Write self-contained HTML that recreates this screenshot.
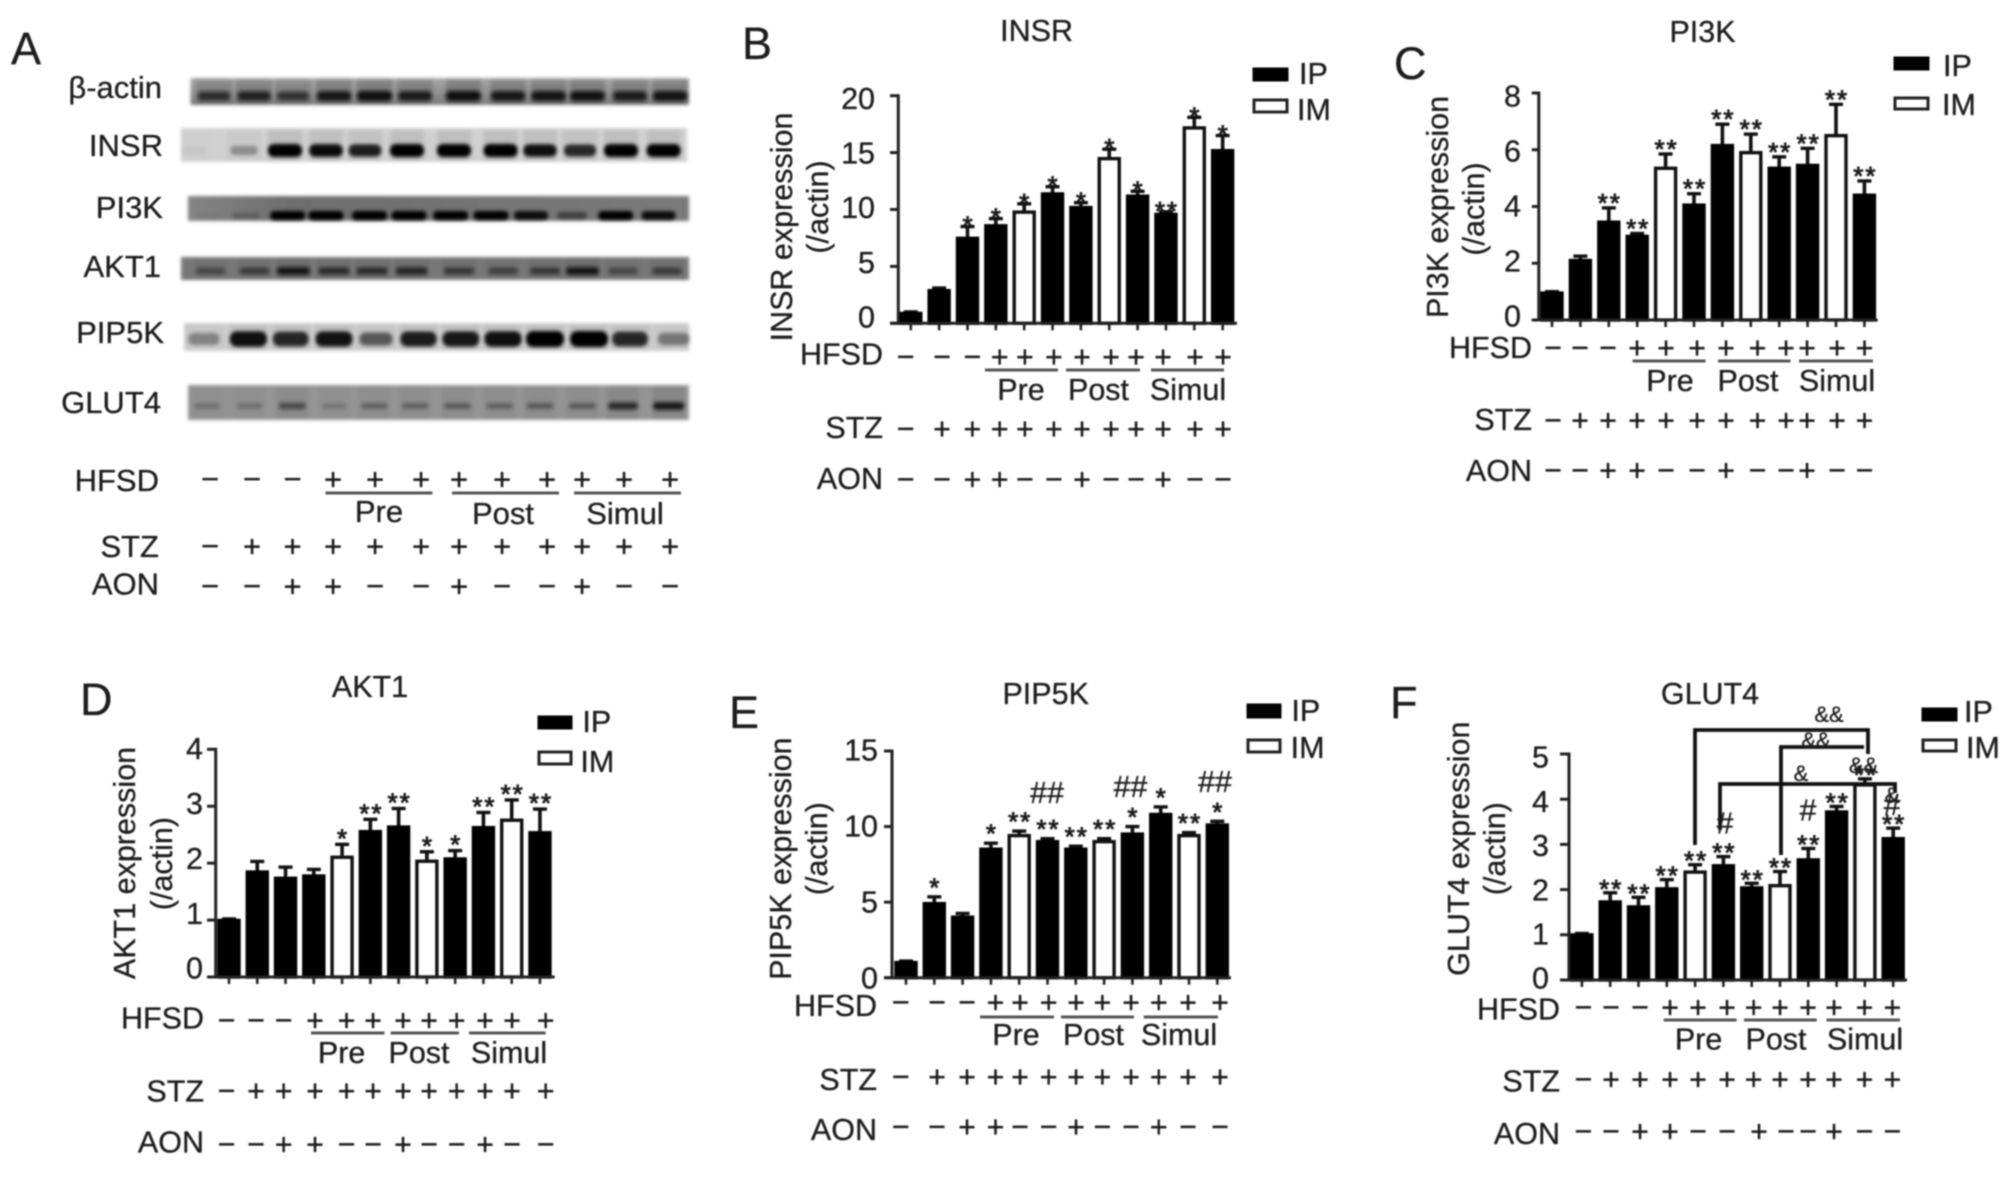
<!DOCTYPE html>
<html lang="en">
<head>
<meta charset="utf-8">
<title>Expression of INSR, PI3K, AKT1, PIP5K and GLUT4</title>
<style>
html,body{margin:0;padding:0;background:#fff;}
#figure{display:block;width:2008px;height:1179px;filter:blur(0.85px);}
text{font-family:"Liberation Sans",Arial,sans-serif;font-size:30.5px;fill:#1c1c1c;stroke:#1c1c1c;stroke-width:0.3;}
#panel-a text{font-size:31px;}
#panel-a text.letter,.letter{font-size:45px;}
.end{text-anchor:end;}
.mid{text-anchor:middle;}
.under{stroke:#555;stroke-width:3;}
.bracket{fill:none;stroke:#111;stroke-width:3.8;}
.solid{fill:#000;stroke:#000;stroke-width:3;}
.open{fill:#fff;stroke:#222;stroke-width:3;}
text.small{font-size:22px;}
text.stars{font-size:26px;stroke-width:0.9;letter-spacing:2px;}
</style>
</head>
<body>
<svg id="figure" xmlns="http://www.w3.org/2000/svg" width="2008" height="1179" viewBox="0 0 2008 1179">
<defs>
<filter id="gelBlur" x="-5%" y="-30%" width="110%" height="160%"><feGaussianBlur stdDeviation="1.6"/></filter>
<filter id="bandBlur" x="-30%" y="-100%" width="160%" height="300%"><feGaussianBlur stdDeviation="1.9"/></filter>
<linearGradient id="gelActin" x1="0" y1="0" x2="0" y2="1"><stop offset="0" stop-color="#a8a8a8"/><stop offset="1" stop-color="#7a7a7a"/></linearGradient>
<linearGradient id="gelPi3k" x1="0" y1="0" x2="1" y2="0"><stop offset="0" stop-color="#858585"/><stop offset="0.2" stop-color="#6e6e6e"/><stop offset="1" stop-color="#7a7a7a"/></linearGradient>
</defs>
<rect x="0" y="0" width="2008" height="1179" fill="#fff"/>

<g id="panel-a">
  <text class="letter" x="11" y="64">A</text>
  <g id="gel-strips"></g>
  <text class="end" x="162" y="98">β-actin</text>
  <text class="end" x="163" y="156">INSR</text>
  <text class="end" x="163" y="218">PI3K</text>
  <text class="end" x="161" y="277">AKT1</text>
  <text class="end" x="164" y="343">PIP5K</text>
  <text class="end" x="161" y="413">GLUT4</text>
  <text class="end" x="159" y="491">HFSD</text>
  <text class="end" x="159" y="557">STZ</text>
  <text class="end" x="159" y="594.5">AON</text>
  <line class="under" x1="325.5" y1="493" x2="432.5" y2="493"/>
  <line class="under" x1="452" y1="493" x2="559" y2="493"/>
  <line class="under" x1="574" y1="493" x2="681" y2="493"/>
  <text class="mid" x="379" y="522">Pre</text>
  <text class="mid" x="503" y="524">Post</text>
  <text class="mid" x="625" y="524">Simul</text>
  <g id="marks-a"></g>
</g>

<g id="panel-b">
  <text class="letter" x="742" y="59">B</text>
  <text class="mid" x="1036.6" y="41">INSR</text>
  <text class="mid" transform="translate(792,227) rotate(-90)">INSR expression</text>
  <text class="mid" transform="translate(828,207) rotate(-90)">(/actin)</text>
  <rect class="solid" x="1254" y="69" width="33" height="11"/>
  <text x="1299" y="84">IP</text>
  <rect class="open" x="1254" y="100" width="33" height="12"/>
  <text x="1297" y="120">IM</text>
  <text class="end" x="883" y="364.5">HFSD</text>
  <text class="end" x="883" y="438">STZ</text>
  <text class="end" x="883" y="489">AON</text>
  <line class="under" x1="985" y1="370" x2="1058" y2="370"/>
  <line class="under" x1="1066" y1="370" x2="1140" y2="370"/>
  <line class="under" x1="1151" y1="370" x2="1224" y2="370"/>
  <text class="mid" x="1021" y="400">Pre</text>
  <text class="mid" x="1098.5" y="400">Post</text>
  <text class="mid" x="1188" y="400">Simul</text>
</g>

<g id="panel-c">
  <text class="letter" x="1394" y="79">C</text>
  <text class="mid" x="1702.5" y="42">PI3K</text>
  <text class="mid" transform="translate(1448,207) rotate(-90)">PI3K expression</text>
  <text class="mid" transform="translate(1484,209) rotate(-90)">(/actin)</text>
  <rect class="solid" x="1895" y="58" width="33" height="11"/>
  <text x="1943" y="76">IP</text>
  <rect class="open" x="1895" y="98" width="33" height="11"/>
  <text x="1942" y="115">IM</text>
  <text class="end" x="1532" y="358">HFSD</text>
  <text class="end" x="1532" y="430">STZ</text>
  <text class="end" x="1532" y="481">AON</text>
  <line class="under" x1="1632.6" y1="361" x2="1705.5" y2="361"/>
  <line class="under" x1="1718" y1="361" x2="1790.5" y2="361"/>
  <line class="under" x1="1799" y1="361" x2="1873" y2="361"/>
  <text class="mid" x="1670" y="391">Pre</text>
  <text class="mid" x="1748" y="391">Post</text>
  <text class="mid" x="1837" y="391">Simul</text>
</g>

<g id="panel-d">
  <text class="letter" x="80" y="715">D</text>
  <text class="mid" x="370" y="697">AKT1</text>
  <text class="mid" transform="translate(135,863) rotate(-90)">AKT1 expression</text>
  <text class="mid" transform="translate(172,863.6) rotate(-90)">(/actin)</text>
  <rect class="solid" x="539" y="717" width="32" height="11"/>
  <text x="582.4" y="732">IP</text>
  <rect class="open" x="539" y="752" width="32" height="12"/>
  <text x="580.4" y="772">IM</text>
  <text class="end" x="204" y="1028.5">HFSD</text>
  <text class="end" x="204" y="1101.5">STZ</text>
  <text class="end" x="204" y="1152.5">AON</text>
  <line class="under" x1="311" y1="1033" x2="384.5" y2="1033"/>
  <line class="under" x1="390.6" y1="1033" x2="459" y2="1033"/>
  <line class="under" x1="469" y1="1033" x2="545.7" y2="1033"/>
  <text class="mid" x="341.6" y="1063">Pre</text>
  <text class="mid" x="419" y="1063">Post</text>
  <text class="mid" x="509" y="1063">Simul</text>
</g>

<g id="panel-e">
  <text class="letter" x="729" y="728">E</text>
  <text class="mid" x="1045.7" y="704">PIP5K</text>
  <text class="mid" transform="translate(791,858.7) rotate(-90)">PIP5K expression</text>
  <text class="mid" transform="translate(827,848.7) rotate(-90)">(/actin)</text>
  <rect class="solid" x="1248" y="705" width="32" height="12"/>
  <text x="1291.4" y="721">IP</text>
  <rect class="open" x="1248" y="740" width="32" height="12"/>
  <text x="1290.6" y="758">IM</text>
  <text class="end" x="877" y="1016">HFSD</text>
  <text class="end" x="877" y="1090">STZ</text>
  <text class="end" x="877" y="1140">AON</text>
  <line class="under" x1="980" y1="1017" x2="1054" y2="1017"/>
  <line class="under" x1="1061" y1="1017" x2="1134" y2="1017"/>
  <line class="under" x1="1143.7" y1="1017" x2="1218" y2="1017"/>
  <text class="mid" x="1016" y="1045">Pre</text>
  <text class="mid" x="1093.5" y="1045">Post</text>
  <text class="mid" x="1179" y="1045">Simul</text>
</g>

<g id="panel-f">
  <text class="letter" x="1390" y="718">F</text>
  <text class="mid" x="1710" y="704">GLUT4</text>
  <text class="mid" transform="translate(1469,848.7) rotate(-90)">GLUT4 expression</text>
  <text class="mid" transform="translate(1505,848.7) rotate(-90)">(/actin)</text>
  <rect class="solid" x="1923" y="709" width="33" height="11"/>
  <text x="1964" y="722">IP</text>
  <rect class="open" x="1923" y="740" width="33" height="11"/>
  <text x="1966" y="758">IM</text>
  <text class="end" x="1560" y="1019.5">HFSD</text>
  <text class="end" x="1560" y="1091.5">STZ</text>
  <text class="end" x="1560" y="1144">AON</text>
  <line class="under" x1="1663.7" y1="1020" x2="1736.6" y2="1020"/>
  <line class="under" x1="1744" y1="1020" x2="1816.8" y2="1020"/>
  <line class="under" x1="1826.5" y1="1020" x2="1900" y2="1020"/>
  <text class="mid" x="1698.6" y="1049.5">Pre</text>
  <text class="mid" x="1776" y="1049.5">Post</text>
  <text class="mid" x="1865" y="1049.5">Simul</text>
</g>
</svg>

<script>
// ---- shared categories ----
const barKinds = ["IP","IP","IP","IP","IM","IP","IP","IM","IP","IP","IM","IP"];
const hfsdSigns = ["−","−","−","+","+","+","+","+","+","+","+","+"];
const stzSigns  = ["−","+","+","+","+","+","+","+","+","+","+","+"];
const aonSigns  = ["−","−","+","+","−","−","+","−","−","+","−","−"];

// ---- INSR ----
const insrTicks = [0,5,10,15,20];
const insrValues = [1,3,7.6,8.7,9.9,11.5,10.3,14.6,11.3,9.7,17.3,15.3];
const insrErrorTops = [1,3.1,8.5,9.2,10.5,12,10.6,15.3,11.6,9.8,18.1,16.5];
const insrStars = ["","","*","*","*","*","*","*","*","**","*","*"];

// ---- PI3K ----
const pi3kTicks = [0,2,4,6,8];
const pi3kValues = [1,2.15,3.5,3,5.4,4.1,6.2,5.95,5.4,5.5,6.55,4.45];
const pi3kErrorTops = [1,2.25,3.95,3.05,5.85,4.45,6.9,6.55,5.75,6.05,7.6,4.9];
const pi3kStars = ["","","**","**","**","**","**","**","**","**","**","**"];

// ---- AKT1 ----
const akt1Ticks = [0,1,2,3,4];
const akt1Values = [1.02,1.87,1.76,1.8,2.13,2.58,2.66,2.06,2.1,2.65,2.78,2.56];
const akt1ErrorTops = [1.02,2.03,1.93,1.89,2.33,2.77,2.96,2.2,2.22,2.89,3.11,2.95];
const akt1Stars = ["","","","","*","**","**","*","*","**","**","**"];

// ---- PIP5K ----
const pip5kTicks = [0,5,10,15];
const pip5kValues = [1.1,5,4.1,8.6,9.5,9.1,8.6,9.1,9.6,10.9,9.5,10.2];
const pip5kErrorTops = [1.1,5.35,4.25,8.9,9.7,9.2,8.7,9.2,10,11.3,9.6,10.35];
const pip5kStars = ["","*","","*","**","**","**","**","*","*","**","*"];

// ---- GLUT4 ----
const glut4Ticks = [0,1,2,3,4,5];
const glut4Values = [1.03,1.76,1.65,2.05,2.42,2.56,2.07,2.12,2.69,3.75,4.35,3.16];
const glut4ErrorTops = [1.03,1.93,1.83,2.22,2.55,2.73,2.14,2.4,2.91,3.84,4.45,3.36];
const glut4Stars = ["","**","**","**","**","**","**","**","**","**","**","**"];

// ---- blot band intensities (0-1) ----
const actinBands = [0.7,0.8,0.65,0.9,0.97,0.85,0.97,0.9,0.92,0.95,0.85,0.92];
const insrBands  = [0.03,0.3,1,0.95,0.85,1,1,1,0.92,0.8,1,1];
const pi3kBands  = [0.03,0.2,1,1,1,1,1,1,0.9,0.45,1,0.9];
const akt1Bands  = [0.45,0.55,0.9,0.7,0.7,0.75,0.6,0.5,0.6,0.9,0.45,0.55];
const pip5kBands = [0.35,0.92,0.8,0.9,0.55,0.85,0.88,0.92,1,1,0.8,0.4];
const glut4Bands = [0.25,0.25,0.5,0.2,0.35,0.35,0.4,0.35,0.4,0.4,0.75,0.9];

const SVGNS = "http://www.w3.org/2000/svg";
function make(tag, attrs, parent, txt){
  const el = document.createElementNS(SVGNS, tag);
  for (const k in attrs) el.setAttribute(k, attrs[k]);
  if (txt !== undefined) el.textContent = txt;
  parent.appendChild(el);
  return el;
}

function drawMarks(group, markX, signs, y, rowName){
  signs.forEach(function(sign, i){
    const m = make("text", {x: markX[i], y: y + 10.5, "text-anchor": "middle"}, group, sign);
    
    
  });
}

function drawPanel(cfg){
  const g = document.getElementById(cfg.group);
  const yScale = function(v){ return cfg.y0 - v * (cfg.y0 - cfg.yTop) / cfg.yMax; };
  const xScale = function(i){ return cfg.x0 + i * cfg.step; };

  cfg.values.forEach(function(v, i){
    const cx = xScale(i), top = yScale(v), errTop = yScale(cfg.errTops[i]);
    const stem = make("line", {x1: cx, x2: cx, y1: top, y2: errTop, stroke: "#111", "stroke-width": 3.6}, g);
    
    
    const cap = make("line", {x1: cx - 7, x2: cx + 7, y1: errTop, y2: errTop, stroke: "#111", "stroke-width": 3.4}, g);
    
    
    const isOpen = barKinds[i] === "IM";
    const bar = make("rect", {x: cx - 10, y: top + 1.5, width: 20, height: Math.max(0, cfg.y0 - top - 1.5),
      fill: isOpen ? "#fff" : "#000", stroke: isOpen ? "#111" : "#000", "stroke-width": 3.4}, g);
    
    
    if (cfg.stars[i]) {
      const star = make("text", {x: cx + 1, y: errTop - cfg.starGap + 15, "text-anchor": "middle", "class": "stars"}, g, cfg.stars[i]);
      
      
    }
  });

  const axisY = make("line", {x1: cfg.axisX, x2: cfg.axisX, y1: cfg.yTop - 1.5, y2: cfg.y0 + 1.5, stroke: "#222", "stroke-width": 3}, g);
  
  
  const axisX = make("line", {x1: cfg.tickLeft, x2: cfg.baseRight, y1: cfg.y0, y2: cfg.y0, stroke: "#222", "stroke-width": 3}, g);
  
  

  cfg.ticks.forEach(function(t){
    const ty = yScale(t);
    const mark = make("line", {x1: cfg.tickLeft, x2: cfg.axisX, y1: ty, y2: ty, stroke: "#222", "stroke-width": 3}, g);
    
    
    const off = cfg.labelOffBottom + (cfg.labelOffTop - cfg.labelOffBottom) * t / cfg.yMax;
    const lab = make("text", {x: cfg.tickLabelRight, y: ty + off + 10.7, "text-anchor": "end"}, g, String(t));
    
    
  });

  cfg.values.forEach(function(v, i){
    const cx = xScale(i);
    const tick = make("line", {x1: cx, x2: cx, y1: cfg.y0, y2: cfg.y0 + 7, stroke: "#222", "stroke-width": 2.6}, g);
    
    
  });

  drawMarks(g, cfg.markX, hfsdSigns, cfg.hfsdY, 'hfsd');
  drawMarks(g, cfg.markX, stzSigns, cfg.stzY, 'stz');
  drawMarks(g, cfg.aonX || cfg.markX, aonSigns, cfg.aonY, 'aon');
}

drawPanel({group:"panel-b", name:"insr", y0:323.3, yTop:95.7, yMax:20, axisX:898.3, tickLeft:890, baseRight:1237,
  x0:910.8, step:28.35, tickLabelRight:875, labelOffTop:2.6, labelOffBottom:-6.6, starGap:7, ticks:insrTicks, values:insrValues, errTops:insrErrorTops, stars:insrStars,
  hfsdY:356.5, stzY:428.5, aonY:479,
  markX:[905.6,942,972.4,999.7,1024.9,1053.9,1082,1111,1136,1163,1195,1223]});

drawPanel({group:"panel-c", name:"pi3k", y0:320, yTop:93, yMax:8, axisX:1538.8, tickLeft:1531.8, baseRight:1877.7,
  x0:1552, step:28.4, tickLabelRight:1521, labelOffTop:3, labelOffBottom:-4, starGap:11, ticks:pi3kTicks, values:pi3kValues, errTops:pi3kErrorTops, stars:pi3kStars,
  hfsdY:347.6, stzY:420, aonY:470,
  markX:[1553,1580,1608,1637,1666,1697,1726,1757.5,1786,1807,1837,1864.5]});

drawPanel({group:"panel-d", name:"akt1", y0:977, yTop:749.3, yMax:4, axisX:215.7, tickLeft:207, baseRight:554.7,
  x0:229, step:28.27, tickLabelRight:203, labelOffTop:-1, labelOffBottom:-9, starGap:12, ticks:akt1Ticks, values:akt1Values, errTops:akt1ErrorTops, stars:akt1Stars,
  hfsdY:1020, stzY:1090.5, aonY:1144,
  markX:[226.5,256,283.7,315,346.5,373,403,429,456.7,485,512,545.7]});

drawPanel({group:"panel-e", name:"pip5k", y0:977.7, yTop:751, yMax:15, axisX:892, tickLeft:884, baseRight:1231,
  x0:906, step:28.3, tickLabelRight:878, labelOffTop:-1, labelOffBottom:0, starGap:15.5, ticks:pip5kTicks, values:pip5kValues, errTops:pip5kErrorTops, stars:pip5kStars,
  hfsdY:1002, stzY:1076.5, aonY:1126.5,
  markX:[900.8,937,967,995.5,1020,1048.6,1076,1102.4,1131,1158.8,1188,1220]});

drawPanel({group:"panel-f", name:"glut4", y0:980, yTop:754, yMax:5, axisX:1569, tickLeft:1560, baseRight:1907,
  x0:1581.9, step:28.3, tickLabelRight:1549, labelOffTop:3, labelOffBottom:-2, starGap:10, ticks:glut4Ticks, values:glut4Values, errTops:glut4ErrorTops, stars:glut4Stars,
  hfsdY:1007, stzY:1079, aonY:1131,
  markX:[1583.4,1611,1640,1670,1698,1727,1753.6,1780,1808,1834,1864.5,1892.4],
  aonX:[1583.4,1611,1640,1670,1698,1727,1759,1786,1808,1834,1864.5,1892.4]});

// ---- annotations on PIP5K ----
(function(){
  const g = document.getElementById("panel-e");
  const hashes = make("g", {}, g);
  
  
  [[1047,803],[1130.5,797],[1215,792]].forEach(function(p){
    const t = make("text", {x:p[0], y:p[1], "text-anchor":"middle"}, hashes, "##");
    
    
  });
})();

// ---- brackets and annotations on GLUT4 ----
(function(){
  const g = document.getElementById("panel-f");
  [["M1695 845V730H1868V754","bracket-top"],
   ["M1781 855V747H1864","bracket-middle"],
   ["M1720 830V784H1895V793","bracket-lower"]].forEach(function(b){
    const p = make("path", {d:b[0], "class":"bracket"}, g);
    
    
  });
  [[1725,833.5],[1808,820.5],[1892,815]].forEach(function(p){
    const t = make("text", {x:p[0], y:p[1], "text-anchor":"middle"}, g, "#");
    
    
  });
  [[1829,722,"&&"],[1816,748,"&&"],[1801,781,"&"],[1863.5,773,"&&"],[1892,803,"&"]].forEach(function(p){
    const t = make("text", {x:p[0], y:p[1], "text-anchor":"middle", "class":"small"}, g, p[2]);
    
    
  });
})();

// ---- Panel A: blot strips ----
(function(){
  const gels = document.getElementById("gel-strips");
  const strips = [
    {name:"actin", x:190.5,w:498.5,y:78,h:27, bg:"url(#gelActin)", bandY:96, bandH:10, bandW:35, band:actinBands, dark:"#0a0a0a", smear:0.18,
      lanes:[214,254,293,334,374.5,415,463.4,508,548.6,587.5,630,670]},
    {name:"insr",  x:181,w:506,y:128,h:34, bg:"#d0d0d0", bandY:150.5, bandH:13, bandW:34, band:insrBands, dark:"#000", smear:0.08,
      lanes:[194,244,285,326,365,407,454,500.6,540,580,621,663.6]},
    {name:"pi3k",  x:188,w:501,y:196,h:25, bg:"url(#gelPi3k)", bandY:215.5, bandH:9, bandW:35, band:pi3kBands, dark:"#000", smear:0,
      lanes:[209,246,287.6,326,369.5,409,450.6,491,531,572,615.6,658.5]},
    {name:"akt1",  x:181,w:508,y:257,h:23, bg:"#777777", bandY:271, bandH:8, bandW:34, band:akt1Bands, dark:"#0c0c0c", smear:0.08,
      lanes:[210.6,254.5,293.4,334,372,411.7,459,503,545,582.4,623,667]},
    {name:"pip5k", x:184,w:505,y:323,h:28, bg:"#cccccc", bandY:339, bandH:16, bandW:38, band:pip5kBands, dark:"#050505", smear:0.06,
      lanes:[204,248.4,290.7,334,376,418.5,460.8,503,545,589,630,673.7]},
    {name:"glut4", x:188,w:501,y:385,h:35, bg:"#949494", bandY:406, bandH:8, bandW:32, band:glut4Bands, dark:"#0c0c0c", smear:0.1,
      lanes:[207,249.4,292.4,334,374.5,415,457.4,499.6,540,582.4,623,668.6]}
  ];
  strips.forEach(function(s){
    const strip = make("g", {}, gels);
    
    
    const bg = make("rect", {x:s.x, y:s.y, width:s.w, height:s.h, fill:s.bg, filter:"url(#gelBlur)"}, strip);
    
    
    s.band.forEach(function(v, i){
      if (s.smear > 0) {
        const sm = make("rect", {x:s.lanes[i] - s.bandW / 2, y:s.y + 2, width:s.bandW, height:s.h - 4, fill:"#000", opacity:s.smear * v, filter:"url(#bandBlur)"}, strip);
        
        
      }
      const w = s.bandW * (0.72 + 0.28 * v), h = s.bandH * (0.6 + 0.4 * v);
      const b = make("rect", {x:s.lanes[i] - w / 2, y:s.bandY - h / 2, width:w, height:h, rx:h / 2.2, ry:h / 2.2, fill:s.dark, opacity:v, filter:"url(#bandBlur)"}, strip);
      
      
    });
  });
  const marks = document.getElementById("marks-a");
  const markX = [210,252,292.5,333,375,421,459,502,547,582,624,670];
  drawMarks(marks, markX, hfsdSigns, 479, 'hfsd');
  drawMarks(marks, markX, stzSigns, 546, 'stz');
  drawMarks(marks, markX, aonSigns, 586, 'aon');
})();
</script>
</body>
</html>
